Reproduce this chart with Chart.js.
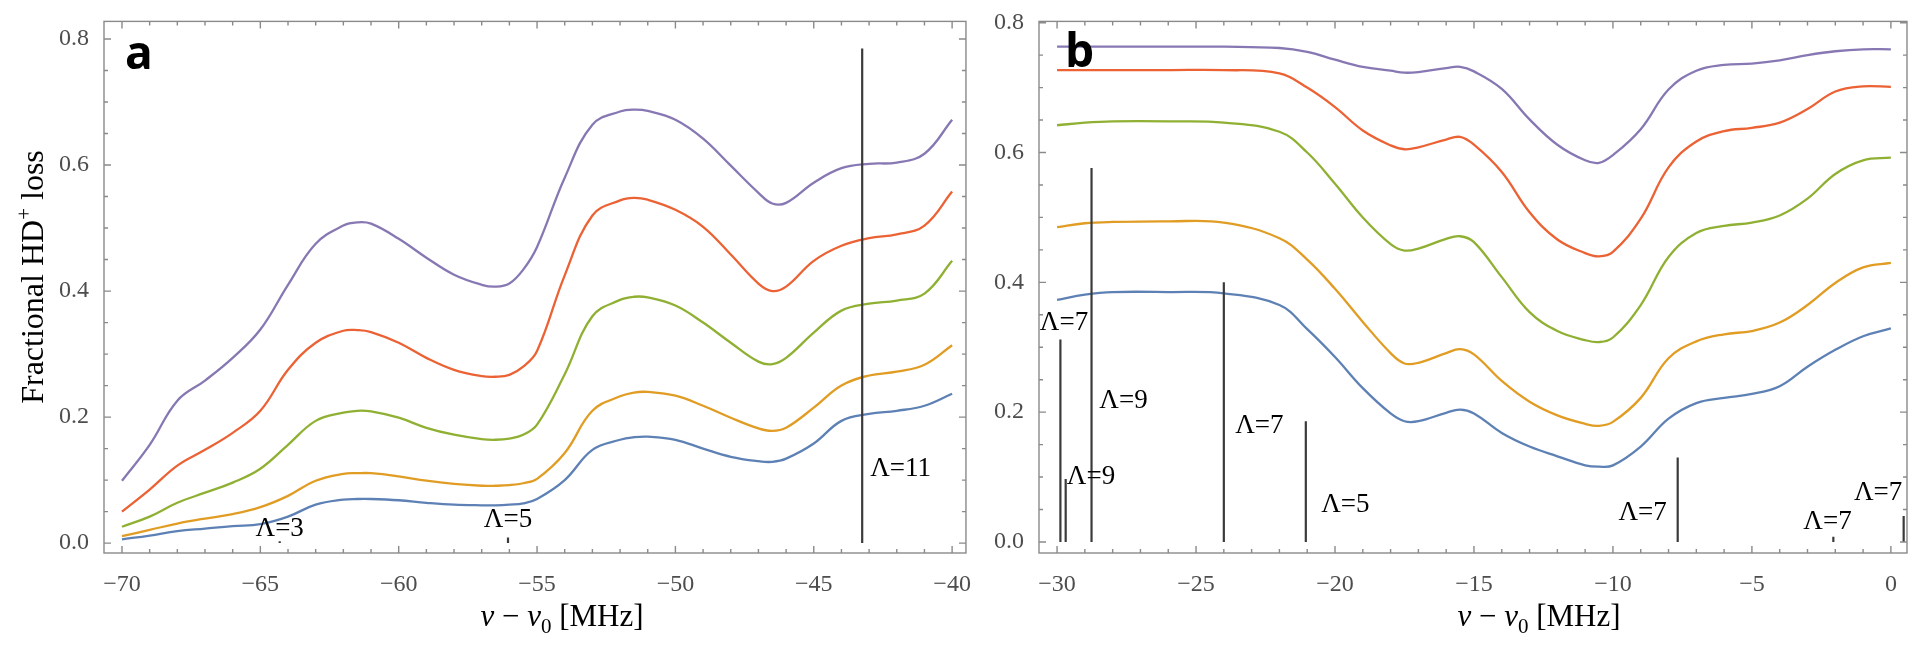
<!DOCTYPE html>
<html>
<head>
<meta charset="utf-8">
<script src="https://cdn.jsdelivr.net/npm/chart.js@4.4.1/dist/chart.umd.min.js"></script>
<style>
  html, body { margin: 0; padding: 0; background: #fff; }
  body { width: 1924px; height: 653px; position: relative; overflow: hidden; }
  canvas { position: absolute; top: 0; }
  #chartA { left: 0; }
  #chartB { left: 985px; }
</style>
</head>
<body>
<canvas id="chartA" width="980" height="653"></canvas>
<canvas id="chartB" width="939" height="653"></canvas>
<script>
// panel a: detuning grid and the five loss curves
const xA = [-70, -69, -68, -67, -66, -65, -64, -63, -62, -61.5, -61, -60, -59, -58, -57, -56.5, -56, -55.5, -55,
  -54, -53, -52, -51.5, -51, -50, -49, -48, -47, -46.5, -46, -45, -44, -43, -42, -41, -40];
const blueA = [0.006, 0.012, 0.019, 0.023, 0.027, 0.03, 0.042, 0.061, 0.069, 0.07, 0.07, 0.068, 0.064, 0.061, 0.06, 0.06, 0.061, 0.063, 0.07,
  0.1, 0.148, 0.164, 0.168, 0.169, 0.164, 0.15, 0.137, 0.13, 0.129, 0.134, 0.158, 0.194, 0.205, 0.21, 0.218, 0.237];
const orangeA = [0.011, 0.021, 0.031, 0.039, 0.046, 0.057, 0.075, 0.099, 0.11, 0.111, 0.111, 0.106, 0.099, 0.094, 0.091, 0.091, 0.092, 0.095, 0.102,
  0.143, 0.21, 0.233, 0.239, 0.24, 0.234, 0.218, 0.199, 0.182, 0.178, 0.183, 0.215, 0.25, 0.266, 0.272, 0.283, 0.314];
const greenA = [0.026, 0.042, 0.064, 0.08, 0.096, 0.118, 0.156, 0.194, 0.207, 0.21, 0.209, 0.199, 0.183, 0.172, 0.165, 0.164, 0.166, 0.172, 0.188,
  0.268, 0.36, 0.386, 0.391, 0.39, 0.377, 0.35, 0.318, 0.288, 0.284, 0.294, 0.334, 0.369, 0.38, 0.385, 0.396, 0.448];
const redA = [0.05, 0.085, 0.123, 0.148, 0.175, 0.21, 0.275, 0.318, 0.337, 0.338, 0.335, 0.318, 0.294, 0.275, 0.265, 0.264, 0.267, 0.28, 0.305,
  0.425, 0.52, 0.544, 0.548, 0.545, 0.529, 0.502, 0.458, 0.412, 0.4, 0.407, 0.448, 0.472, 0.484, 0.49, 0.504, 0.558];
const purpleA = [0.099, 0.156, 0.226, 0.258, 0.294, 0.339, 0.41, 0.475, 0.504, 0.509, 0.507, 0.483, 0.453, 0.426, 0.41, 0.407, 0.412, 0.434, 0.47,
  0.58, 0.664, 0.685, 0.688, 0.686, 0.672, 0.642, 0.599, 0.556, 0.539, 0.54, 0.572, 0.595, 0.602, 0.604, 0.618, 0.672];

// panel a: transition lines and their labels
const stickXA = [-64.3, -56.05, -43.25];
const stickHA = [0.003, 0.009, 0.785];
const labelTextA = ['\u039B=3', '\u039B=5', '\u039B=11'];
const labelXA = [-64.3, -56.05, -41.86];
const labelYA = [0.022, 0.037, 0.117];

// panel b
const xB = [-30, -29, -28, -26, -24, -22, -21, -20, -19, -18, -17.5, -17, -16, -15.5, -15,
  -14, -13, -12, -11, -10.5, -10, -9, -8, -7, -6, -5, -4, -3, -2, -1, 0];
const blueB = [0.373, 0.381, 0.385, 0.385, 0.383, 0.365, 0.328, 0.285, 0.237, 0.198, 0.186, 0.186, 0.199, 0.204, 0.198,
  0.168, 0.147, 0.132, 0.118, 0.116, 0.118, 0.147, 0.19, 0.214, 0.222, 0.228, 0.24, 0.27, 0.296, 0.317, 0.329];
const orangeB = [0.485, 0.491, 0.493, 0.494, 0.492, 0.468, 0.435, 0.39, 0.339, 0.291, 0.275, 0.276, 0.291, 0.297, 0.289,
  0.248, 0.216, 0.195, 0.182, 0.179, 0.185, 0.222, 0.283, 0.309, 0.32, 0.325, 0.338, 0.365, 0.399, 0.423, 0.43];
const greenB = [0.642, 0.646, 0.648, 0.648, 0.646, 0.632, 0.6, 0.552, 0.5, 0.459, 0.449, 0.452, 0.467, 0.471, 0.462,
  0.408, 0.354, 0.325, 0.311, 0.308, 0.315, 0.365, 0.439, 0.476, 0.487, 0.492, 0.503, 0.529, 0.567, 0.588, 0.592];
const redB = [0.727, 0.727, 0.727, 0.727, 0.727, 0.722, 0.7, 0.67, 0.634, 0.611, 0.605, 0.608, 0.62, 0.624, 0.612,
  0.57, 0.508, 0.466, 0.445, 0.44, 0.447, 0.498, 0.577, 0.617, 0.633, 0.638, 0.646, 0.667, 0.694, 0.702, 0.701];
const purpleB = [0.763, 0.763, 0.763, 0.763, 0.763, 0.761, 0.755, 0.743, 0.732, 0.726, 0.723, 0.724, 0.73, 0.732, 0.725,
  0.698, 0.651, 0.612, 0.588, 0.584, 0.596, 0.636, 0.697, 0.726, 0.735, 0.737, 0.742, 0.75, 0.756, 0.759, 0.759];

const stickXB = [-29.88, -29.69, -28.76, -24.0, -21.05, -7.67, -2.07, 0.46];
const stickHB = [0.312, 0.097, 0.576, 0.4, 0.186, 0.13, 0.008, 0.04];
const labelTextB = ['\u039B=7', '\u039B=9', '\u039B=9', '\u039B=7', '\u039B=5', '\u039B=7', '\u039B=7', '\u039B=7'];
const labelXB = [-29.75, -27.61, -28.78, -22.72, -19.63, -8.93, -2.28, -0.46];
const labelYB = [0.338, 0.218, 0.1, 0.179, 0.057, 0.044, 0.031, 0.076];

// ticks
const yTicks = [0, 0.05, 0.1, 0.15, 0.2, 0.25, 0.3, 0.35, 0.4, 0.45, 0.5, 0.55, 0.6, 0.65, 0.7, 0.75, 0.8];
const yMajor = [0, 0.2, 0.4, 0.6, 0.8];
const xMajorA = [-70, -65, -60, -55, -50, -45, -40];
const xMajorB = [-30, -25, -20, -15, -10, -5, 0];

const colors = { blue: '#5E81B5', orange: '#E19C24', green: '#8FB032', red: '#EB6235', purple: '#8778B3' };
const serif = '"Liberation Serif", "Times New Roman", serif';

function minorTicks(major) {
  const out = [];
  for (let v = major[0]; v <= major[major.length - 1]; v++) out.push(v);
  return out;
}

function isMajorY(v) {
  return yMajor.some(m => Math.abs(m - v) < 1e-6);
}

function fmtX(v) {
  return v < 0 ? '\u2212' + Math.abs(v) : String(v);
}

function drawRich(ctx, pieces, cx, y) {
  let w = 0;
  pieces.forEach(p => { ctx.font = p.font; w += ctx.measureText(p.t).width; });
  let x = cx - w / 2;
  pieces.forEach(p => {
    ctx.font = p.font;
    ctx.fillText(p.t, x, y + (p.dy || 0));
    x += ctx.measureText(p.t).width;
  });
}

const frameTicks = {
  id: 'frameTicks',
  afterDatasetsDraw(chart, args, opts) {
    const ctx = chart.ctx, a = chart.chartArea;
    const xs = chart.scales.x, ys = chart.scales.y;
    ctx.save();
    ctx.strokeStyle = '#8a8a8a';
    ctx.lineWidth = 1.4;
    ctx.strokeRect(a.left, a.top, a.right - a.left, a.bottom - a.top);
    ctx.beginPath();
    xs.ticks.forEach((t, i) => {
      const px = xs.getPixelForTick(i);
      const len = opts.xMajor.includes(t.value) ? 7 : 4;
      ctx.moveTo(px, a.bottom); ctx.lineTo(px, a.bottom - len);
      ctx.moveTo(px, a.top); ctx.lineTo(px, a.top + len);
    });
    ys.ticks.forEach((t, i) => {
      const py = ys.getPixelForTick(i);
      const len = isMajorY(t.value) ? 7 : 4;
      ctx.moveTo(a.left, py); ctx.lineTo(a.left + len, py);
      ctx.moveTo(a.right, py); ctx.lineTo(a.right - len, py);
    });
    ctx.stroke();

    // Λ labels at data positions
    ctx.fillStyle = '#000';
    ctx.font = '27px ' + serif;
    ctx.textAlign = 'center';
    ctx.textBaseline = 'middle';
    opts.labelText.forEach((t, i) => {
      ctx.fillText(t, xs.getPixelForValue(opts.labelX[i]), ys.getPixelForValue(opts.labelY[i]));
    });

    // panel letter
    ctx.textAlign = 'left';
    ctx.textBaseline = 'alphabetic';
    ctx.font = 'bold 46px "Open Sans", sans-serif';
    ctx.fillText(opts.panel, a.left + opts.panelDx, a.top + opts.panelDy);

    // x-axis title
    drawRich(ctx, [
      { t: '\u03BD', font: 'italic 31px ' + serif },
      { t: ' \u2212 ', font: '31px ' + serif },
      { t: '\u03BD', font: 'italic 31px ' + serif },
      { t: '0', font: '21px ' + serif, dy: 7 },
      { t: ' [MHz]', font: '31px ' + serif }
    ], opts.xTitleCx, 626);

    // y-axis title
    if (opts.yTitle) {
      ctx.translate(43, 277);
      ctx.rotate(-Math.PI / 2);
      drawRich(ctx, [
        { t: 'Fractional HD', font: '32px ' + serif },
        { t: '+', font: '21px ' + serif, dy: -12 },
        { t: ' loss', font: '32px ' + serif }
      ], 0, 0);
    }
    ctx.restore();
  }
};

function makeChart(id, p) {
  const series = [
    { v: p.blue, c: colors.blue },
    { v: p.orange, c: colors.orange },
    { v: p.green, c: colors.green },
    { v: p.red, c: colors.red },
    { v: p.purple, c: colors.purple }
  ];
  const sticks = p.stickX.map((x, i) => ({
    data: [{ x: x, y: 0 }, { x: x, y: p.stickH[i] }],
    borderColor: '#3a3a3a', borderWidth: 2.2, pointRadius: 0, showLine: true, tension: 0
  }));
  const curves = series.map(s => ({
    data: p.x.map((x, i) => ({ x: x, y: s.v[i] })),
    borderColor: s.c, borderWidth: 2.3, pointRadius: 0, showLine: true,
    tension: 0.4, fill: false
  }));
  const xTicks = minorTicks(p.xMajor);

  return new Chart(document.getElementById(id), {
    type: 'scatter',
    data: { datasets: sticks.concat(curves) },
    options: {
      responsive: false,
      animation: false,
      devicePixelRatio: 1,
      events: [],
      layout: { padding: { left: 0, top: p.padTop, right: p.padRight, bottom: 0 } },
      plugins: {
        legend: { display: false },
        tooltip: { enabled: false },
        frameTicks: {
          xMajor: p.xMajor, labelText: p.labelText, labelX: p.labelX, labelY: p.labelY,
          panel: p.panel, panelDx: p.panelDx, panelDy: p.panelDy,
          xTitleCx: p.xTitleCx, yTitle: p.yTitle
        }
      },
      scales: {
        x: {
          type: 'linear', min: p.xMin, max: p.xMax,
          afterBuildTicks: s => { s.ticks = xTicks.map(v => ({ value: v })); },
          afterFit: s => { s.height = 100; },
          grid: { display: false }, border: { display: false },
          ticks: {
            autoSkip: false, maxRotation: 0, padding: 9, color: '#4d4d4d',
            font: { family: serif, size: 24 },
            callback: v => p.xMajor.includes(v) ? fmtX(v) : ''
          }
        },
        y: {
          type: 'linear', min: p.yMin, max: p.yMax,
          afterBuildTicks: s => { s.ticks = yTicks.map(v => ({ value: v })); },
          afterFit: s => { s.width = p.yWidth; },
          grid: { display: false }, border: { display: false },
          ticks: {
            autoSkip: false, padding: 7, color: '#4d4d4d',
            font: { family: serif, size: 24 },
            callback: v => isMajorY(v) ? v.toFixed(1) : ''
          }
        }
      }
    },
    plugins: [frameTicks]
  });
}

makeChart('chartA', {
  x: xA, blue: blueA, orange: orangeA, green: greenA, red: redA, purple: purpleA,
  stickX: stickXA, stickH: stickHA, labelText: labelTextA, labelX: labelXA, labelY: labelYA,
  xMajor: xMajorA, xMin: -70.65, xMax: -39.5, yMin: -0.0157, yMax: 0.828,
  padTop: 15, padRight: 7, yWidth: 104,
  panel: 'a', panelDx: 21, panelDy: 48, xTitleCx: 562, yTitle: true
});

makeChart('chartB', {
  x: xB, blue: blueB, orange: orangeB, green: greenB, red: redB, purple: purpleB,
  stickX: stickXB, stickH: stickHB, labelText: labelTextB, labelX: labelXB, labelY: labelYB,
  xMajor: xMajorB, xMin: -30.65, xMax: 0.58, yMin: -0.017, yMax: 0.802,
  padTop: 17, padRight: 17, yWidth: 54,
  panel: 'b', panelDx: 26, panelDy: 46, xTitleCx: 554, yTitle: false
});
</script>
</body>
</html>
